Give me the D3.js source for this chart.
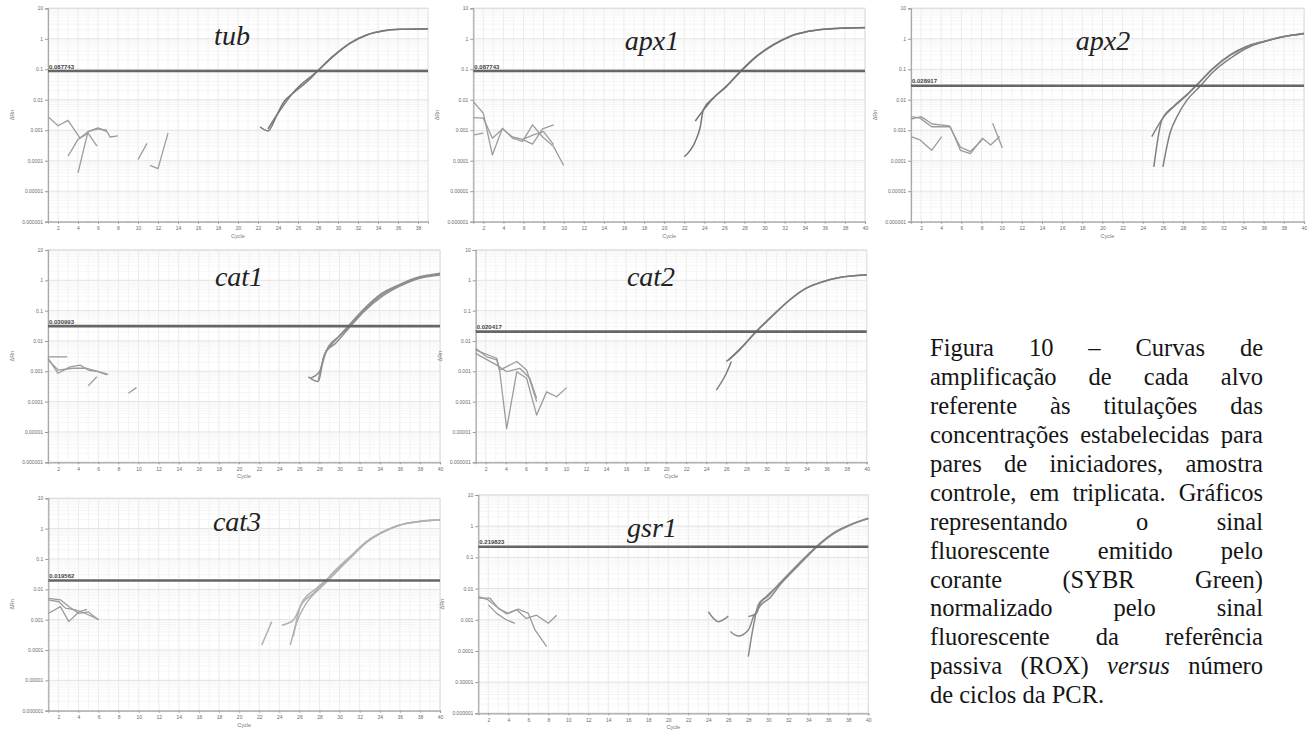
<!DOCTYPE html>
<html><head><meta charset="utf-8">
<script src="https://cdn.jsdelivr.net/npm/d3@7"></script>
<style>
html,body{margin:0;padding:0;background:#fff;}
svg{display:block;}
.serif{font-family:"Liberation Serif","Times New Roman",Times,"DejaVu Serif",serif;}
.sans{font-family:"Liberation Sans",Arial,"DejaVu Sans",sans-serif;}
</style></head><body>
<svg id="fig" width="1307" height="733"></svg>
<script>
// ---------- data: amplification plots (ΔRn vs cycle), log scale ----------
const targets = ["tub", "apx1", "apx2", "cat1", "cat2", "cat3", "gsr1"];
const thresholds = [0.087743, 0.087743, 0.028917, 0.030993, 0.020417, 0.019562, 0.219823];
const thresholdLabels = ["0.087743", "0.087743", "0.028917", "0.030993", "0.020417", "0.019562", "0.219823"];
const lastCycle = [39, 40, 40, 40, 40, 40, 40];
const yTickValues = [10, 1, 0.1, 0.01, 0.001, 0.0001, 0.00001, 0.000001];
const yTickLabels = ["10", "1", "0.1", "0.01", "0.001", "0.0001", "0.00001", "0.000001"];
const xTickValues = [2, 4, 6, 8, 10, 12, 14, 16, 18, 20, 22, 24, 26, 28, 30, 32, 34, 36, 38, 40];

// baseline noise segments, [cycle, ΔRn]
const tubNoise = [
  [[1,0.0028],[2,0.0014],[3,0.0021],[4.2,0.00055],[5,0.0008],[5.9,0.0003]],
  [[3,0.00014],[4,0.0005],[5,0.0009],[6,0.0012],[6.9,0.0009],[7.2,0.0006],[8,0.00065]],
  [[4,0.00004],[5,0.0009],[6,0.0011],[6.9,0.001]],
  [[10,0.00011],[10.9,0.00037]],
  [[11.2,0.00007],[12,0.000055],[13,0.0008]]
];
const tubAmp = [
  [[22.2,0.0013],[23,0.00095],[23.9,0.0032],[24.5,0.0078],[25.5,0.0163],[26.9,0.039],[27.9,0.083],[29.5,0.26],[31.2,0.71],[32.9,1.33],[34.5,1.8],[36.2,2.04],[39,2.1]],
  [[23,0.0011],[24,0.0036],[25.5,0.017],[27.9,0.086],[29.5,0.27],[31.2,0.72],[32.9,1.35],[34.5,1.82],[36.2,2.06],[39,2.15]]
];
const apx1Noise = [
  [[1,0.0087],[2,0.0036],[2.9,0.000155],[3.9,0.00117],[4.9,0.00055],[5.9,0.00043],[6.9,0.0015],[7.9,0.0006],[9,0.00029],[10,0.00007]],
  [[1,0.0026],[2,0.0025],[2.9,0.00055],[3.9,0.0011],[4.9,0.0006],[5.9,0.0005],[6.9,0.00035],[7.9,0.0011],[9,0.0015]],
  [[1.1,0.0007],[2,0.0008]],
  [[5.9,0.0005],[7,0.0007],[8,0.0009],[9,0.00033]]
];
const apx1Amp = [
  [[22,0.000135],[23.1,0.00043],[23.6,0.0013],[23.9,0.0047],[24.9,0.0113],[26.2,0.027],[27.6,0.083],[29.2,0.26],[30.9,0.63],[32.5,1.17],[34.2,1.7],[35.9,2.04],[37.5,2.2],[40,2.3]],
  [[23.1,0.002],[23.9,0.0045],[24.9,0.0115],[26.2,0.028],[27.6,0.086],[29.2,0.27],[30.9,0.65],[32.5,1.2],[34.2,1.72],[35.9,2.06],[37.5,2.22],[40,2.33]]
];
const apx2Noise = [
  [[1,0.0028],[1.9,0.0025],[3.05,0.0013],[4.05,0.0013],[4.9,0.0013],[5.9,0.00022],[6.9,0.00017],[8.1,0.00055],[8.9,0.00033],[9.8,0.00062]],
  [[1,0.0023],[2,0.0028],[3.1,0.0016],[4.8,0.0014],[5.9,0.00028],[6.9,0.0002],[8.1,0.0005]],
  [[1,0.00062],[1.9,0.00048],[3.05,0.00022],[4.05,0.00062]],
  [[9.1,0.0017],[10.07,0.00026]]
];
const apx2Amp = [
  [[24.9,0.00062],[26.1,0.0028],[27.1,0.006],[28.4,0.0145],[29.4,0.031],[31,0.107],[32.7,0.29],[34.3,0.55],[36,0.8],[37.6,1.11],[40,1.45]],
  [[25.1,0.000063],[25.9,0.0022],[27.1,0.0062],[28.4,0.015],[29.4,0.032],[31,0.11],[32.7,0.3],[34.3,0.56],[36,0.82],[37.6,1.12],[40,1.47]],
  [[26,0.000063],[26.7,0.0008],[27.4,0.0028],[28.4,0.0099],[29.7,0.028],[31,0.083],[32.7,0.23],[34.3,0.49],[36,0.8],[37.6,1.1],[40,1.52]]
];
const cat1Noise = [
  [[1,0.0027],[2,0.00086],[3.2,0.0014],[4.2,0.0016],[5,0.0011],[6,0.00097],[6.85,0.00076]],
  [[1,0.003],[2.9,0.003]],
  [[1,0.0024],[2,0.0011],[3.5,0.00126],[4.85,0.00126],[5.85,0.00102],[7,0.0008]],
  [[5,0.00033],[5.85,0.00066]],
  [[9,0.00019],[9.8,0.00029]]
];
const cat1Amp = [
  [[26.9,0.00066],[27.9,0.00046],[28.4,0.0027],[28.9,0.0065],[29.9,0.0138],[30.9,0.032],[32.5,0.12],[34.2,0.37],[35.9,0.71],[37.5,1.17],[40,1.7]],
  [[27.1,0.00059],[28,0.00097],[28.7,0.0045],[29.6,0.0083],[30.9,0.026],[32.5,0.098],[34.2,0.29],[35.9,0.62],[37.5,1.05],[40,1.5]],
  [[27.9,0.0005],[28.5,0.0035],[29.2,0.0075],[30.9,0.029],[32.5,0.108],[34.2,0.33],[35.9,0.66],[37.5,1.1],[40,1.6]]
];
const cat2Noise = [
  [[1,0.0057],[2.1,0.003],[3.1,0.0024],[3.4,0.00097],[4.09,0.000013],[5.1,0.00097],[6.08,0.00059],[7.08,0.000036],[8.07,0.00021],[9.07,0.000145],[10.07,0.00029]],
  [[1,0.005],[3.1,0.0027],[3.4,0.0011],[5.1,0.0021],[6.08,0.0011],[7.08,0.0001]],
  [[1,0.0039],[3.1,0.0016],[4.09,0.00097],[5.4,0.00126],[6.4,0.00059],[7.08,0.000128]]
];
const cat2Amp = [
  [[25,0.00024],[26,0.00086],[26.5,0.0021]],
  [[26,0.0021],[27.3,0.005],[29,0.0205],[30.7,0.072],[32.3,0.22],[34,0.55],[35.7,0.91],[37.3,1.23],[40,1.5]],
  [[26.2,0.0023],[27.3,0.0052],[29,0.021],[30.7,0.074],[32.3,0.225],[34,0.56],[35.7,0.92],[37.3,1.24],[40,1.52]]
];
const cat3Noise = [
  [[1,0.005],[2.2,0.0045],[3.04,0.0027],[4.03,0.0016],[5,0.0018],[6,0.00097]],
  [[1,0.0016],[2.2,0.0027],[3.04,0.00086],[4.03,0.0018],[4.85,0.0022]],
  [[1,0.0045],[2.05,0.0039],[2.7,0.0024],[3.7,0.0021],[4.7,0.0016],[6,0.00102]]
];
const cat3Amp = [
  [[22.25,0.000145],[23.25,0.00086]],
  [[24.25,0.00066],[25.4,0.00097],[26.4,0.0045],[27.7,0.0108],[29.4,0.034],[31.1,0.12],[32.7,0.37],[34.4,0.8],[36,1.32],[37.7,1.7],[40,1.95]],
  [[25.1,0.000145],[25.7,0.00076],[26.7,0.0035],[28.4,0.0138],[29.4,0.03],[31.1,0.11],[32.7,0.35],[34.4,0.78],[36,1.3],[37.7,1.68],[40,1.93]],
  [[25.4,0.00028],[26.1,0.0027],[27.4,0.0074],[28.4,0.016],[29.4,0.037],[31.1,0.125],[32.7,0.38],[34.4,0.82],[36,1.33],[40,1.97]]
];
const gsr1Noise = [
  [[1,0.0055],[2,0.0043],[2.83,0.0026],[3.83,0.00154],[4.83,0.0021],[5.8,0.0011],[6.83,0.0014],[8,0.00077],[8.84,0.0014]],
  [[1,0.0049],[2.17,0.0049],[3,0.0023],[4,0.0016],[5,0.0022],[6,0.0016],[6.67,0.00047],[7.84,0.000138]],
  [[2,0.003],[2.83,0.0016],[3.83,0.00098],[4.67,0.00077]]
];
const gsr1Amp = [
  [[24,0.0018],[25,0.00087],[26,0.0013]],
  [[26.2,0.00042],[27,0.0003],[28,0.00047],[28.5,0.00126]],
  [[28,0.000066],[28.5,0.0006],[29,0.003],[29.8,0.0055],[31.2,0.0148],[32.5,0.04],[33.8,0.105],[35.2,0.28],[36.5,0.59],[38.2,1.1],[40,1.78]],
  [[28,0.00126],[28.8,0.0016],[29.2,0.0034],[30,0.0058],[31.2,0.0155],[32.5,0.042],[33.8,0.11],[35.2,0.29],[36.5,0.6],[38.2,1.12],[40,1.8]],
  [[28.5,0.0012],[29.2,0.0028],[30.2,0.0052],[31.2,0.0135],[32.5,0.037],[33.8,0.1],[35.2,0.27],[36.5,0.57],[38.2,1.08],[40,1.75]]
];
const noiseSets = [tubNoise, apx1Noise, apx2Noise, cat1Noise, cat2Noise, cat3Noise, gsr1Noise];
const ampSets = [tubAmp, apx1Amp, apx2Amp, cat1Amp, cat2Amp, cat3Amp, gsr1Amp];

// caption (justified paragraph, last line left-aligned; * marks an italic word)
const captionLines = [
  "Figura 10 – Curvas de",
  "amplificação de cada alvo",
  "referente às titulações das",
  "concentrações estabelecidas para",
  "pares de iniciadores, amostra",
  "controle, em triplicata. Gráficos",
  "representando o sinal",
  "fluorescente emitido pelo",
  "corante (SYBR Green)",
  "normalizado pelo sinal",
  "fluorescente da referência",
  "passiva (ROX) *versus número",
  "de ciclos da PCR."
];

// ---------- layout ----------
const frames = [
  {x0: 48,    x1: 428,   y0: 8.3, y1: 221.7, tx: 232,  ty: 45},
  {x0: 473.3, x1: 865,   y0: 8.3, y1: 221.7, tx: 652,  ty: 50},
  {x0: 911,   x1: 1304,  y0: 8.3, y1: 221.7, tx: 1103, ty: 50},
  {x0: 48,    x1: 440,   y0: 250, y1: 462.3, tx: 239,  ty: 286},
  {x0: 475.7, x1: 866.7, y0: 250, y1: 462.3, tx: 651,  ty: 286},
  {x0: 48.3,  x1: 440,   y0: 498.3, y1: 710.7, tx: 237, ty: 531},
  {x0: 478.3, x1: 868.3, y0: 495, y1: 713.3, tx: 652,  ty: 537}
];
const ampColors = ["#7a7a7a", "#767676", "#808080", "#8e8e8e", "#7c7c7c", "#b2b2b2", "#8a8a8a"];
const noiseColor = "#9c9c9c";

const svg = d3.select("#fig");
svg.append("rect").attr("width", 1307).attr("height", 733).attr("fill", "#fff");

const minorY = [];
[1e-6, 1e-5, 1e-4, 1e-3, 1e-2, 1e-1, 1].forEach(d => [2,3,4,5,6,7,8,9].forEach(m => minorY.push(d * m)));

targets.forEach((name, i) => {
  const f = frames[i];
  const x = d3.scaleLinear().domain([1, lastCycle[i]]).range([f.x0, f.x1]);
  const y = d3.scaleLog().domain([1e-6, 10]).range([f.y1, f.y0]);
  const g = svg.append("g");

  // plot background
  g.append("rect").attr("x", f.x0).attr("y", f.y0).attr("width", f.x1 - f.x0).attr("height", f.y1 - f.y0)
    .attr("fill", "#fff").attr("stroke", "#d6d6d6").attr("stroke-width", 1);

  // grid
  const cyc = d3.range(1, lastCycle[i] + 1);
  g.selectAll(null).data(cyc).join("line")
    .attr("x1", d => x(d)).attr("x2", d => x(d)).attr("y1", f.y0).attr("y2", f.y1)
    .attr("stroke", d => d % 2 === 0 ? "#e4e4e4" : "#f1f1f1").attr("stroke-width", 0.8);
  g.selectAll(null).data(minorY).join("line")
    .attr("x1", f.x0).attr("x2", f.x1).attr("y1", d => y(d)).attr("y2", d => y(d))
    .attr("stroke", "#f2f2f2").attr("stroke-width", 0.7);
  g.selectAll(null).data(yTickValues).join("line")
    .attr("x1", f.x0).attr("x2", f.x1).attr("y1", d => y(d)).attr("y2", d => y(d))
    .attr("stroke", "#e0e0e0").attr("stroke-width", 0.9);

  // axes
  const yAxis = d3.axisLeft(y).tickValues(yTickValues).tickFormat((d, k) => yTickLabels[k]).tickSize(3).tickPadding(2);
  const ya = g.append("g").attr("transform", `translate(${f.x0},0)`).call(yAxis);
  const xTicks = xTickValues.filter(v => v <= lastCycle[i]);
  const xAxis = d3.axisBottom(x).tickValues(xTicks).tickFormat(d => d).tickSize(2).tickPadding(3);
  const xa = g.append("g").attr("transform", `translate(0,${f.y1})`).call(xAxis);
  [ya, xa].forEach(a => {
    a.attr("font-family", null).attr("font-size", null).attr("class", "sans");
    a.select(".domain").attr("stroke", "#a8a8a8").attr("stroke-width", 1.2);
    a.selectAll(".tick line").attr("stroke", "#999");
    a.selectAll(".tick text").attr("fill", "#6a6a6a").attr("font-size", 5);
  });

  g.append("text").attr("class", "sans").attr("x", (f.x0 + f.x1) / 2).attr("y", f.y1 + 16).attr("text-anchor", "middle")
    .attr("font-size", 5.5).attr("fill", "#777").text("Cycle");
  g.append("text").attr("class", "sans").attr("transform", `translate(${f.x0 - 34},${(f.y0 + f.y1) / 2}) rotate(-90)`)
    .attr("text-anchor", "middle").attr("font-size", 5.5).attr("fill", "#777").text("ΔRn");

  // curves
  const line = d3.line().x(d => x(d[0])).y(d => y(d[1]));
  const smooth = d3.line().x(d => x(d[0])).y(d => y(d[1])).curve(d3.curveMonotoneX);
  g.selectAll(null).data(noiseSets[i]).join("path")
    .attr("d", line).attr("fill", "none").attr("stroke", noiseColor).attr("stroke-width", 1.3).attr("stroke-linejoin", "round");
  g.selectAll(null).data(ampSets[i]).join("path")
    .attr("d", smooth).attr("fill", "none").attr("stroke", ampColors[i]).attr("stroke-width", 1.5).attr("stroke-linejoin", "round");

  // threshold
  const ty = y(thresholds[i]);
  g.append("line").attr("x1", f.x0).attr("x2", f.x1).attr("y1", ty).attr("y2", ty)
    .attr("stroke", "#666").attr("stroke-width", 2.6);
  g.append("text").attr("class", "sans").attr("x", f.x0 + 1).attr("y", ty - 2.5)
    .attr("font-size", 6).attr("font-weight", "bold").attr("fill", "#444").text(thresholdLabels[i]);

  // title
  g.append("text").attr("class", "serif").attr("x", f.tx).attr("y", f.ty).attr("text-anchor", "middle")
    .attr("font-style", "italic").attr("font-size", 28).attr("fill", "#222").text(name);
});

// caption
const capX0 = 930, capX1 = 1263, capY0 = 356.3, capLead = 28.9;
const capG = svg.append("g").attr("class", "serif").attr("font-size", 24.5).attr("fill", "#151515");
captionLines.forEach((ln, i) => {
  const words = ln.split(" ").map(w => w.startsWith("*") ? {t: w.slice(1), it: true} : {t: w, it: false});
  const yb = capY0 + i * capLead;
  const nodes = words.map(w => capG.append("text").attr("y", yb).attr("font-style", w.it ? "italic" : "normal").text(w.t));
  const widths = nodes.map(n => n.node().getComputedTextLength());
  const last = i === captionLines.length - 1;
  const gap = last ? 6.1 : (capX1 - capX0 - d3.sum(widths)) / (words.length - 1);
  let cx = capX0;
  nodes.forEach((n, j) => { n.attr("x", cx); cx += widths[j] + gap; });
});
</script>
</body></html>
